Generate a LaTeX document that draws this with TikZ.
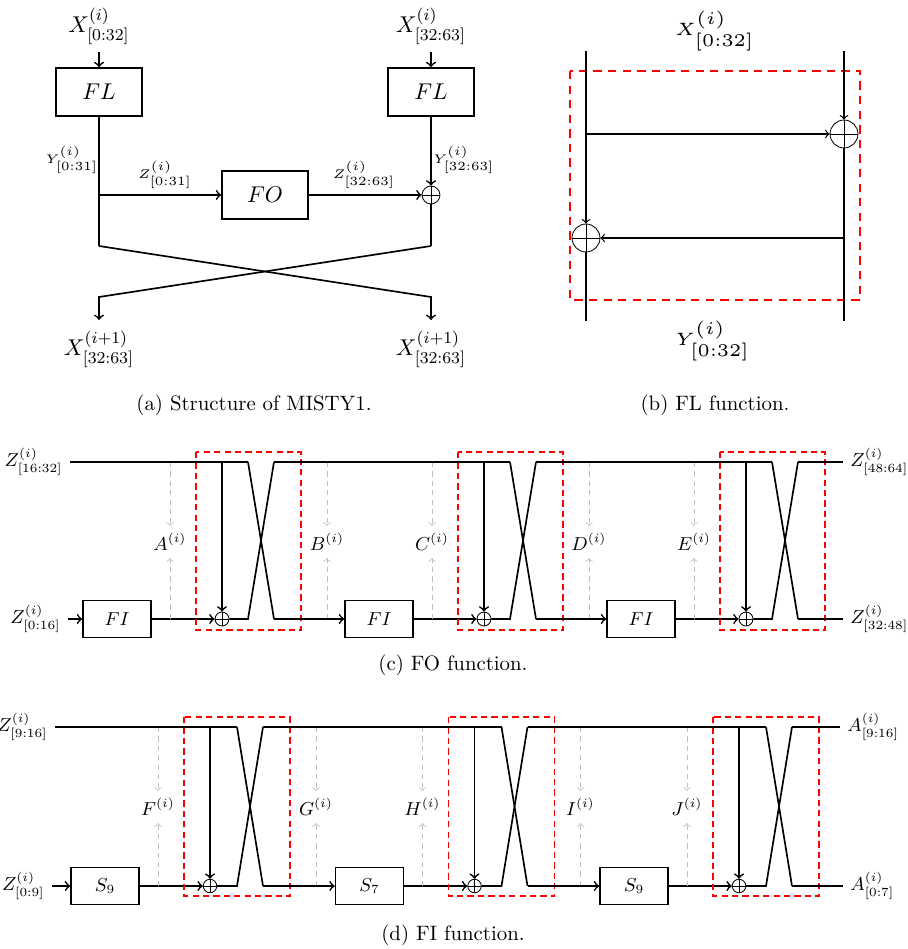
\documentclass[tikz,border=0pt]{standalone}
\usepackage{amsmath, amssymb}
\usepackage{xcolor}
\usepackage{tikz}
\definecolor{roundred}{RGB}{255,0,0}
\definecolor{keygray}{RGB}{190,190,190}
\tikzset{
  wire/.style={thick},
  flow/.style={thick, ->},
  biglab/.style={font=\fontsize{10.95}{13}\selectfont},
  smalllab/.style={font=\fontsize{8.8}{10}\selectfont},
  opbox/.style={draw, thick, inner sep=0pt, minimum width=32.6pt, minimum height=17.8pt, smalllab},
  xorop/.style={circle, draw, inner sep=0pt, minimum size=#1,
    path picture={\draw (path picture bounding box.north) -- (path picture bounding box.south)
      (path picture bounding box.west) -- (path picture bounding box.east);}},
  roundbox/.style={roundred, semithick, dash pattern=on 3pt off 2pt},
  keyflow/.style={keygray, thin, dash pattern=on 2.5pt off 2pt, ->},
}

\begin{document}
\begin{tikzpicture}[x=0.48pt, y=-0.48pt]
  \useasboundingbox (0,0) rectangle (907,949);
  % (a) structure of MISTY1
  \node[biglab] (xa-l) at (99,26) {$X^{(i)}_{[0:32]}$};
  \node[biglab] (xa-r) at (431,26) {$X^{(i)}_{[32:63]}$};
  \node[opbox, biglab, minimum width=41.3pt, minimum height=23pt] (fl-l) at (99,92) {$FL$};
  \node[opbox, biglab, minimum width=41.3pt, minimum height=23pt] (fl-r) at (431,92) {$FL$};
  \node[opbox, biglab, minimum width=41.3pt, minimum height=23pt] (fo) at (265,195) {$FO$};
  \node[xorop=8.6pt] (xor-a) at (431,195) {};
  \coordinate (br-a) at (99,195);
  \coordinate (ya-l) at (99,246);
  \coordinate (ya-r) at (431,246);
  \coordinate (za-l) at (99,297);
  \coordinate (za-r) at (431,297);
  \coordinate (ta-l) at (99,320);
  \coordinate (ta-r) at (431,320);
  \node[biglab] (xo-l) at (99,349) {$X^{(i+1)}_{[32:63]}$};
  \node[biglab] (xo-r) at (431,349) {$X^{(i+1)}_{[32:63]}$};
  \draw[flow] (xa-l) -- (fl-l);
  \draw[flow] (xa-r) -- (fl-r);
  \draw[wire] (fl-l) -- (ya-l);
  \draw[flow] (br-a) -- (fo);
  \draw[flow] (fo) -- (xor-a);
  \draw[flow] (fl-r) -- (xor-a);
  \draw[wire] (xor-a) -- (ya-r);
  \draw[flow] (ya-l) -- (za-r) -- (ta-r);
  \draw[flow] (ya-r) -- (za-l) -- (ta-l);
  \node (ya-lab) at (72,160) {\scalebox{1.2}{\tiny $Y^{(i)}_{[0:31]}$}};
  \node (yb-lab) at (464,160) {\scalebox{1.2}{\tiny $Y^{(i)}_{[32:63]}$}};
  \node (za-lab) at (165,175) {\scalebox{1.2}{\tiny $Z^{(i)}_{[0:31]}$}};
  \node (zb-lab) at (364,175) {\scalebox{1.2}{\tiny $Z^{(i)}_{[32:63]}$}};
  \node (cap-a) at (254,405) {(a) Structure of MISTY1.};

  % (b) FL function
  \node (xb-top) at (715,31) {\scalebox{1.72}{\tiny $X^{(i)}_{[0:32]}$}};
  \node (yb-bot) at (713,341) {\scalebox{1.72}{\tiny $Y^{(i)}_{[0:32]}$}};
  \draw[roundbox, dash pattern=on 4pt off 3pt] (570,71) rectangle (860,300);
  \coordinate (bl-t) at (586,51);
  \coordinate (bl-b) at (586,321);
  \coordinate (br-t) at (844,51);
  \coordinate (br-b) at (844,321);
  \coordinate (bl-m) at (586,134);
  \coordinate (br-m) at (844,238);
  \node[xorop=13.4pt] (xor-b1) at (844,134) {};
  \node[xorop=13.4pt] (xor-b2) at (586,238) {};
  \draw[semithick, ->] (br-t) -- (xor-b1);
  \draw[semithick] (xor-b1) -- (br-b);
  \draw[semithick, ->] (bl-t) -- (xor-b2);
  \draw[semithick] (xor-b2) -- (bl-b);
  \draw[semithick, ->] (bl-m) -- (xor-b1);
  \draw[semithick, ->] (br-m) -- (xor-b2);
  \node (cap-b) at (715,405) {(b) FL function.};

  % (c) FO function
  \node[smalllab, anchor=east] (zc-top) at (70,462) {$Z^{(i)}_{[16:32]}$};
  \node[smalllab, anchor=east] (zc-in) at (68,619) {$Z^{(i)}_{[0:16]}$};
  \node[smalllab, anchor=west] (zc-outt) at (843,462) {$Z^{(i)}_{[48:64]}$};
  \node[smalllab, anchor=west] (zc-outb) at (843,619) {$Z^{(i)}_{[32:48]}$};
  \foreach \k/\a in {0/A,1/C,2/E} {
    \pgfmathsetmacro{\x}{222+262*\k}
    \node[opbox] (fi\k) at (\x-105,619) {$FI$};
    \node[xorop=6.7pt] (xc\k) at (\x,619) {};
    \coordinate (tc\k) at (\x,462);
    \coordinate (ca\k) at (\x+26,619);
    \coordinate (cb\k) at (\x+52,462);
    \coordinate (cc\k) at (\x+26,462);
    \coordinate (cd\k) at (\x+52,619);
    \draw[flow] (tc\k) -- (xc\k);
    \draw[flow] (fi\k) -- (xc\k);
    \draw[wire] (xc\k) -- (ca\k) -- (cb\k);
    \draw[wire] (cc\k) -- (cd\k);
    \draw[roundbox] (\x-26,452) rectangle (\x+79,630);
    \node[smalllab] (kc\k) at (\x-52,542) {$\a^{(i)}$};
    \coordinate (kct\k) at (\x-52,462);
    \coordinate (kcb\k) at (\x-52,619);
    \draw[keyflow] (kct\k) -- (kc\k);
    \draw[keyflow] (kcb\k) -- (kc\k);
  }
  \foreach \k/\n/\b in {0/1/B,1/2/D} {
    \pgfmathsetmacro{\x}{222+262*\k+105}
    \node[smalllab] (kc-\b) at (\x,542) {$\b^{(i)}$};
    \coordinate (kct-\b) at (\x,462);
    \coordinate (kcb-\b) at (\x,619);
    \draw[keyflow] (kct-\b) -- (kc-\b);
    \draw[keyflow] (kcb-\b) -- (kc-\b);
    \draw[wire] (cb\k) -- (cc\n);
    \draw[flow] (cd\k) -- (fi\n);
  }
  \draw[wire] (zc-top) -- (cc0);
  \draw[flow] (zc-in) -- (fi0);
  \draw[wire] (cb2) -- (zc-outt);
  \draw[wire] (cd2) -- (zc-outb);
  \node (cap-c) at (453,665) {(c) FO function.};

  % (d) FI function
  \node[smalllab, anchor=east] (zd-top) at (55,727) {$Z^{(i)}_{[9:16]}$};
  \node[smalllab, anchor=east] (zd-in) at (52,886) {$Z^{(i)}_{[0:9]}$};
  \node[smalllab, anchor=west] (ad-top) at (840,727) {$A^{(i)}_{[9:16]}$};
  \node[smalllab, anchor=west] (ad-bot) at (843,886) {$A^{(i)}_{[0:7]}$};
  \foreach \k/\a/\s in {0/F/9,1/H/7,2/J/9} {
    \pgfmathsetmacro{\x}{210+264.5*\k}
    \node[opbox] (sb\k) at (\x-105,886) {$S_\s$};
    \node[xorop=6.5pt] (xd\k) at (\x,886) {};
    \coordinate (td\k) at (\x,727);
    \coordinate (da\k) at (\x+27,886);
    \coordinate (db\k) at (\x+53,727);
    \coordinate (dc\k) at (\x+27,727);
    \coordinate (dd\k) at (\x+53,886);
    \draw[flow] (td\k) -- (xd\k);
    \draw[flow] (sb\k) -- (xd\k);
    \draw[wire] (xd\k) -- (da\k) -- (db\k);
    \draw[wire] (dc\k) -- (dd\k);
    \draw[roundbox] (\x-26,717) rectangle (\x+80,896);
    \node[smalllab] (kd\k) at (\x-52,807) {$\a^{(i)}$};
    \coordinate (kdt\k) at (\x-52,727);
    \coordinate (kdb\k) at (\x-52,886);
    \draw[keyflow] (kdt\k) -- (kd\k);
    \draw[keyflow] (kdb\k) -- (kd\k);
  }
  \foreach \k/\n/\b in {0/1/G,1/2/I} {
    \pgfmathsetmacro{\x}{210+264.5*\k+106}
    \node[smalllab] (kd-\b) at (\x,807) {$\b^{(i)}$};
    \coordinate (kdt-\b) at (\x,727);
    \coordinate (kdb-\b) at (\x,886);
    \draw[keyflow] (kdt-\b) -- (kd-\b);
    \draw[keyflow] (kdb-\b) -- (kd-\b);
    \draw[wire] (db\k) -- (dc\n);
    \draw[flow] (dd\k) -- (sb\n);
  }
  \draw[wire] (zd-top) -- (dc0);
  \draw[flow] (zd-in) -- (sb0);
  \draw[wire] (db2) -- (ad-top);
  \draw[wire] (dd2) -- (ad-bot);
  \node (cap-d) at (453,935) {(d) FI function.};
\end{tikzpicture}
\end{document}
